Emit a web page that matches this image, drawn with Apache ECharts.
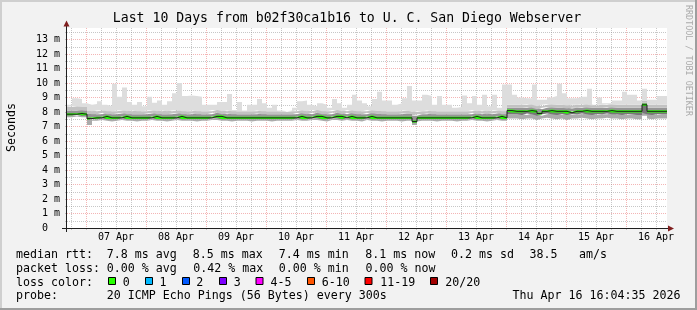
<!DOCTYPE html>
<html><head><meta charset="utf-8">
<script src="https://cdn.jsdelivr.net/npm/echarts@6/dist/echarts.min.js"></script>
<style>html,body{margin:0;padding:0;background:#f2f2f2;}#c{width:697px;height:310px;}</style>
</head><body><div id="c"></div>
<script>
// x values: hours since 06 Apr 2026 00:00; each bucket = 2 hours
const startHour = 16.4;
const bucketHours = 2;

const medianMs = [
 7.85,7.85,7.9,7.85,7.55,7.6,7.6,7.7,7.6,7.6,
 7.6,7.7,7.6,7.6,7.6,7.6,7.6,7.7,7.6,7.6,
 7.6,7.6,7.7,7.6,7.6,7.6,7.6,7.6,7.6,7.7,
 7.7,7.6,7.6,7.6,7.6,7.6,7.6,7.6,7.6,7.6,
 7.6,7.6,7.6,7.6,7.6,7.6,7.7,7.6,7.6,7.7,
 7.7,7.6,7.6,7.7,7.7,7.6,7.7,7.6,7.6,7.6,
 7.7,7.6,7.6,7.6,7.6,7.6,7.6,7.6,7.6,7.35,
 7.6,7.6,7.6,7.6,7.6,7.6,7.6,7.6,7.6,7.6,
 7.6,7.7,7.6,7.6,7.6,7.6,7.7,7.6,8.1,8.05,
 8.05,8.05,8.1,8.05,7.9,8.05,8.1,8.05,8.05,8.05,
 7.95,8.05,8.05,8.1,8.05,8.05,8.05,8.05,8.1,8.05,
 8.05,8.05,8.05,8.05,8.05,8.5,8.05,8.05,8.05,8.05
];
const minMs = [
 7.65,7.65,7.7,7.65,7.1,7.4,7.4,7.45,7.4,7.35,
 7.4,7.45,7.4,7.4,7.35,7.4,7.4,7.45,7.4,7.4,
 7.35,7.4,7.45,7.4,7.4,7.4,7.35,7.4,7.4,7.45,
 7.45,7.4,7.4,7.35,7.4,7.4,7.4,7.35,7.4,7.4,
 7.4,7.35,7.4,7.4,7.4,7.4,7.45,7.4,7.4,7.45,
 7.45,7.4,7.35,7.45,7.45,7.4,7.45,7.4,7.4,7.35,
 7.45,7.4,7.4,7.35,7.4,7.4,7.4,7.35,7.4,7.1,
 7.35,7.4,7.4,7.4,7.35,7.4,7.4,7.4,7.35,7.4,
 7.4,7.45,7.4,7.4,7.35,7.4,7.45,7.4,7.55,7.55,
 7.55,7.5,7.55,7.55,7.45,7.55,7.6,7.55,7.5,7.55,
 7.45,7.55,7.55,7.6,7.55,7.5,7.55,7.55,7.6,7.55,
 7.55,7.5,7.55,7.55,7.5,7.75,7.55,7.5,7.55,7.55
];
const p25Ms = [
 7.75,7.75,7.8,7.75,7.45,7.5,7.5,7.55,7.5,7.5,
 7.5,7.55,7.5,7.5,7.5,7.5,7.5,7.55,7.5,7.5,
 7.5,7.5,7.55,7.5,7.5,7.5,7.5,7.5,7.5,7.55,
 7.55,7.5,7.5,7.5,7.5,7.5,7.5,7.5,7.5,7.5,
 7.5,7.5,7.5,7.5,7.5,7.5,7.55,7.5,7.5,7.55,
 7.55,7.5,7.5,7.55,7.55,7.5,7.55,7.5,7.5,7.5,
 7.55,7.5,7.5,7.5,7.5,7.5,7.5,7.5,7.5,7.25,
 7.5,7.5,7.5,7.5,7.5,7.5,7.5,7.5,7.5,7.5,
 7.5,7.55,7.5,7.5,7.5,7.5,7.55,7.5,7.85,7.85,
 7.85,7.8,7.9,7.85,7.75,7.85,7.9,7.85,7.8,7.85,
 7.8,7.85,7.85,7.9,7.85,7.8,7.85,7.85,7.9,7.85,
 7.85,7.8,7.85,7.85,7.8,7.95,7.85,7.8,7.85,7.85
];
const p75Ms = [
 8.1,8.1,8.15,8.1,7.9,7.85,7.85,7.95,7.85,7.85,
 7.9,7.95,7.85,7.85,7.85,7.85,7.9,7.95,7.85,7.85,
 7.85,7.9,7.95,7.85,7.85,7.9,7.85,7.85,7.85,7.95,
 7.95,7.85,7.9,7.85,7.85,7.85,7.85,7.85,7.9,7.85,
 7.85,7.85,7.85,7.85,7.85,7.85,7.95,7.9,7.85,7.95,
 7.95,7.85,7.85,7.95,7.95,7.85,7.95,7.9,7.85,7.85,
 7.95,7.9,7.9,7.85,7.85,7.85,7.85,7.9,7.9,7.75,
 7.85,7.85,7.9,7.85,7.85,7.85,7.85,7.85,7.85,7.85,
 7.85,7.95,7.85,7.9,7.85,7.9,7.95,7.85,8.3,8.3,
 8.3,8.3,8.35,8.3,8.2,8.3,8.35,8.3,8.3,8.3,
 8.25,8.3,8.3,8.35,8.3,8.3,8.3,8.3,8.35,8.3,
 8.3,8.3,8.3,8.3,8.3,8.65,8.3,8.3,8.3,8.3
];
const p90Ms = [
 8.35,8.4,8.4,8.35,8.1,8.05,8.1,8.15,8.05,8.05,
 8.1,8.15,8.05,8.1,8.05,8.05,8.1,8.15,8.05,8.1,
 8.05,8.1,8.15,8.05,8.05,8.1,8.05,8.05,8.05,8.15,
 8.15,8.05,8.1,8.05,8.05,8.05,8.05,8.05,8.1,8.05,
 8.05,8.05,8.05,8.0,8.05,8.05,8.15,8.1,8.05,8.15,
 8.15,8.05,8.05,8.15,8.15,8.05,8.15,8.1,8.05,8.05,
 8.15,8.1,8.1,8.05,8.05,8.05,8.05,8.1,8.1,8.0,
 8.05,8.05,8.1,8.05,8.05,8.05,8.05,8.05,8.05,8.05,
 8.05,8.15,8.05,8.1,8.05,8.1,8.15,8.05,8.5,8.5,
 8.5,8.5,8.55,8.5,8.4,8.5,8.55,8.5,8.5,8.5,
 8.45,8.5,8.5,8.55,8.5,8.45,8.5,8.5,8.55,8.5,
 8.5,8.5,8.5,8.5,8.5,8.8,8.5,8.5,8.5,8.5
];
const maxMs = [
 8.5,8.95,8.9,8.6,8.5,8.55,8.75,8.5,8.4,9.95,
 9.05,9.7,8.7,8.5,8.7,8.4,9.05,8.65,8.8,8.5,
 8.75,9.3,10.0,9.1,9.15,9.1,9.05,8.5,8.5,8.5,
 8.7,8.7,9.25,8.15,8.7,8.1,8.5,8.5,8.9,8.6,
 8.3,8.5,8.1,8.05,8.1,8.3,8.75,8.8,8.5,8.4,
 8.6,8.5,8.3,8.9,8.6,8.3,8.5,9.2,8.8,8.6,
 8.4,8.9,9.4,8.8,8.8,8.5,8.6,8.95,9.8,8.8,
 8.8,9.2,9.1,8.5,9.1,8.5,8.5,8.3,8.35,9.15,
 8.6,9.1,8.5,9.2,8.4,9.2,8.3,9.9,9.9,9.2,
 9.0,8.95,8.95,9.9,8.85,8.85,9.0,9.1,9.95,9.3,
 8.95,8.95,9.05,9.05,9.6,8.5,9.0,8.6,8.6,8.8,
 8.8,9.4,9.2,9.2,8.8,9.6,8.85,8.85,9.1,9.1
];

// axis ticks and labels (hours since 06 Apr 00:00)
const gridHours = [18,24,30,36,42,48,54,60,66,72,78,84,90,96,102,108,114,120,126,132,138,144,150,156,162,168,174,180,186,192,198,204,210,216,222,228,234,240,246,252];
const dayLabelHours = [36,60,84,108,132,156,180,204,228,252];
const dayLabels = ['07 Apr','08 Apr','09 Apr','10 Apr','11 Apr','12 Apr','13 Apr','14 Apr','15 Apr','16 Apr'];
const yGridMs = [0.5,1,1.5,2,2.5,3,3.5,4,4.5,5,5.5,6,6.5,7,7.5,8,8.5,9,9.5,10,10.5,11,11.5,12,12.5,13,13.5];
const yLabelMs = [0,1,2,3,4,5,6,7,8,9,10,11,12,13];
const yMax = 13.8;

// legend text
const titleText = 'Last 10 Days from b02f30ca1b16 to U. C. San Diego Webserver';
const rttItems = ['median rtt:','7.8 ms avg','8.5 ms max','7.4 ms min','8.1 ms now','0.2 ms sd','38.5','am/s'];
const lossItems = ['packet loss:','0.00 % avg','0.42 % max','0.00 % min','0.00 % now'];
const lossLabels = ['0','1','2','3','4-5','6-10','11-19','20/20'];
const lossColors = ['#26ff00','#00b8ff','#0059ff','#7e00ff','#ff00ff','#ff5500','#ff0000','#a10000'];
const probeText = '20 ICMP Echo Pings (56 Bytes) every 300s';
const dateText = 'Thu Apr 16 16:04:35 2026';

// ---------- layout/style ----------
const EPOCH = Date.UTC(2026, 3, 6);
const H = h => EPOCH + h * 3600000;
const MONO = '"DejaVu Sans Mono", monospace';
const GRID_C = 'rgba(143,143,143,0.5)';
const MGRID_C = 'rgba(230,90,90,0.45)';
const endHour = startHour + medianMs.length * bucketHours;
const xs = medianMs.map((_, i) => H(startHour + i * bucketHours));
const xEnd = H(endHour);
function toPairs(vals) {
  const d = vals.map((v, i) => [xs[i], +v.toFixed(4)]);
  d.push([xEnd, d[d.length - 1][1]]);
  return d;
}
function diff(a, b) { return a.map((v, i) => Math.max(0, v - b[i])); }
function band(vals, stack, color) {
  return {
    type: 'line', stack: stack, step: 'end', data: toPairs(vals), xAxisIndex: 0,
    symbol: 'none', showSymbol: false, silent: true, animation: false,
    lineStyle: { width: 0, opacity: 0 },
    areaStyle: color ? { color: color, opacity: 1 } : undefined
  };
}
const greenHalf = 0.075;
const series = [
  band(minMs, 's', null),
  band(diff(p25Ms, minMs), 's', '#ababab'),
  band(diff(medianMs, p25Ms), 's', '#777777'),
  band(diff(p75Ms, medianMs), 's', '#959595'),
  band(diff(p90Ms, p75Ms), 's', '#c2c2c2'),
  band(diff(maxMs, p90Ms), 's', '#dddddd'),
  { type: 'line', step: 'end', data: toPairs(medianMs), xAxisIndex: 0, symbol: 'none', silent: true,
    lineStyle: { color: '#202020', width: 1 } },
  band(medianMs.map(v => v - greenHalf), 'm', null),
  band(medianMs.map(() => 2 * greenHalf), 'm', lossColors[0])
];

const T = (x, y, text, opt) => Object.assign({
  type: 'text', x: x, y: y, silent: true, z: 20,
  style: Object.assign({ text: text, font: '11.63px ' + MONO, fill: '#000', align: 'left', verticalAlign: 'middle' }, (opt && opt.style) || {})
}, opt && opt.rotation !== undefined ? { rotation: opt.rotation } : {});

const rttX = [16, 106.8, 192.8, 278.8, 365.3, 451, 529.5, 579];
const lossX = [16, 106.8, 193.2, 278.8, 365.5];
const boxX = [108.5, 145.5, 182.5, 219.5, 256, 307.5, 365, 430.5];
const boxLabelX = [122.8, 159.5, 196.2, 233.8, 270.5, 321.8, 380.2, 445.2];
const rowY = [255.3, 268.9, 282.5, 296.1];

const elements = [
  { type: 'rect', shape: { x: 0, y: 0, width: 697, height: 2 }, style: { fill: '#cfcfcf' }, silent: true },
  { type: 'rect', shape: { x: 0, y: 0, width: 2, height: 310 }, style: { fill: '#cfcfcf' }, silent: true },
  { type: 'rect', shape: { x: 0, y: 308, width: 697, height: 2 }, style: { fill: '#9e9e9e' }, silent: true },
  { type: 'rect', shape: { x: 695, y: 0, width: 2, height: 310 }, style: { fill: '#9e9e9e' }, silent: true },
  T(347, 18.5, titleText, { style: { font: '13.2px ' + MONO, align: 'center' } }),
  T(11.5, 127.4, 'Seconds', { rotation: Math.PI / 2, style: { align: 'center' } }),
  T(688, 5, 'RRDTOOL / TOBI OETIKER', { rotation: -Math.PI / 2, style: { font: '8.4px ' + MONO, fill: '#ababab' } }),
  { type: 'line', shape: { x1: 62, y1: 228.5, x2: 669, y2: 228.5 }, style: { stroke: '#1f1f1f', lineWidth: 1 }, silent: true, z: 10 },
  { type: 'line', shape: { x1: 66.5, y1: 232, x2: 66.5, y2: 26 }, style: { stroke: '#1f1f1f', lineWidth: 1 }, silent: true, z: 10 },
  { type: 'polygon', shape: { points: [[668, 225.5], [668, 231.5], [674, 228.5]] }, style: { fill: '#801f1f' }, silent: true, z: 10 },
  { type: 'polygon', shape: { points: [[63.5, 26.5], [69.5, 26.5], [66.5, 20.5]] }, style: { fill: '#801f1f' }, silent: true, z: 10 }
];
rttItems.forEach((t, i) => elements.push(T(rttX[i], rowY[0], t)));
lossItems.forEach((t, i) => elements.push(T(lossX[i], rowY[1], t)));
elements.push(T(16, rowY[2], 'loss color:'));
lossLabels.forEach((t, i) => {
  elements.push({ type: 'rect', shape: { x: boxX[i], y: 277.5, width: 7, height: 7 }, z: 20,
    style: { fill: lossColors[i], stroke: '#000', lineWidth: 1 }, silent: true });
  elements.push(T(boxLabelX[i], rowY[2], t));
});
elements.push(T(16, rowY[3], 'probe:'));
elements.push(T(106.8, rowY[3], probeText));
elements.push(T(680.5, rowY[3], dateText, { style: { align: 'right' } }));

const option = {
  animation: false,
  backgroundColor: '#f2f2f2',
  grid: { left: 67, top: 28, width: 600, height: 200, show: true, backgroundColor: '#ffffff', borderWidth: 0 },
  xAxis: [
    { // time axis carrying the data
      type: 'time', min: H(startHour), max: xEnd,
      axisLine: { show: false }, axisTick: { show: false }, axisLabel: { show: false }, splitLine: { show: false }
    },
    { // hours axis for grid lines and day labels
      type: 'value', min: startHour, max: endHour, position: 'bottom', offset: 0,
      axisLine: { show: false },
      axisTick: { show: true, customValues: gridHours, length: 2, lineStyle: { color: GRID_C } },
      axisLabel: {
        customValues: dayLabelHours,
        formatter: v => { const k = dayLabelHours.indexOf(v); return k >= 0 ? dayLabels[k] : ''; },
        margin: 4, fontFamily: MONO, fontSize: 10, color: '#000', hideOverlap: false
      },
      splitLine: { show: true, lineStyle: { color: [GRID_C, MGRID_C, GRID_C, GRID_C], type: [1, 1], width: 1 } }
    }
  ],
  yAxis: {
    type: 'value', min: 0, max: yMax,
    axisLine: { show: false },
    axisTick: { show: true, customValues: yGridMs, length: 2, lineStyle: { color: GRID_C } },
    axisLabel: {
      customValues: yLabelMs,
      formatter: v => v === 0 ? '0\u00a0\u00a0' : v + ' m',
      margin: 7, fontFamily: MONO, fontSize: 10, color: '#000'
    },
    splitLine: { show: true, lineStyle: { color: [GRID_C, MGRID_C], type: [1, 1], width: 1 } }
  },
  series: series,
  graphic: { elements: elements }
};
const chart = echarts.init(document.getElementById('c'), null, { renderer: 'canvas', width: 697, height: 310 });
chart.setOption(option);
</script>
</body></html>
